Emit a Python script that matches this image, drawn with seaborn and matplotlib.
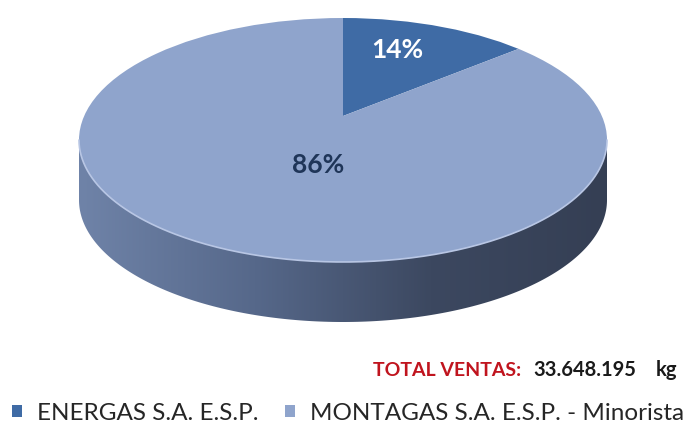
import numpy as np
import matplotlib
matplotlib.use("Agg")
import matplotlib.pyplot as plt
import seaborn as sns
from matplotlib.patches import Polygon, Circle
from matplotlib.colors import LinearSegmentedColormap

# data
companies = ["ENERGAS S.A. E.S.P.", "MONTAGAS S.A. E.S.P. - Minorista"]
shares = [14, 86]
total_label = "TOTAL VENTAS:"
total_value = "33.648.195"
total_unit = "kg"

sns.set_theme(style="white")
plt.rcParams["font.family"] = ["Lato", "DejaVu Sans"]

top_colors = ["#3f6ba5", "#8fa4cc"]

fig = plt.figure(figsize=(6.88, 4.26), dpi=100)
ax = fig.add_axes([0, 0, 1, 1])

# pixel layout -> squashed ellipse (rx 264 px, ry 122 px, centre at 343,140)
cx, cy, rx, ry = 343, 140, 264, 122
depth = 60 / ry
apex_shift = 24 / ry  # perspective: slice apex sits above the ellipse centre

# side of the "3D" pie with a horizontal shading gradient
t = np.linspace(np.pi, 2 * np.pi, 200)
upper = np.column_stack([np.cos(t), np.sin(t)])
lower = np.column_stack([np.cos(t[::-1]), np.sin(t[::-1]) - depth])
side = Polygon(np.vstack([upper, lower]), closed=True, facecolor="none", edgecolor="none")
ax.add_patch(side)
cmap = LinearSegmentedColormap.from_list("side", ["#6f83a8", "#56688a", "#3c4860", "#353f54"])
grad = np.linspace(0, 1, 256).reshape(1, -1)
im = ax.imshow(grad, cmap=cmap, extent=[-1, 1, -1 - depth, 0], aspect="auto", zorder=1)
im.set_clip_path(side)

# top face: pie slices from the data, clipped to the ellipse outline
top = Circle((0, 0), 1, transform=ax.transData, facecolor="none", edgecolor="none")
ax.add_patch(top)
wedges, texts, autotexts = ax.pie(
    shares, colors=top_colors, startangle=90, counterclock=False,
    radius=1.4, center=(0, apex_shift), autopct="%1.0f%%",
    wedgeprops=dict(linewidth=0), textprops=dict(fontsize=19, fontweight="bold"))
for w in wedges:
    w.set_zorder(2)
    w.set_clip_on(True)
    w.set_clip_path(top)

# thin highlight where the top meets the side
ax.plot(np.cos(t), np.sin(t), color="#b8c6e4", lw=1.2, zorder=3)

autotexts[0].set_color("white")
autotexts[0].set_position(((397 - cx) / rx, (cy - 50) / ry))
autotexts[1].set_color("#1f3558")
autotexts[1].set_position(((318 - cx) / rx, (cy - 165) / ry))
for a in autotexts:
    a.set_zorder(4)

ax.set_aspect("auto")
ax.set_xlim(-cx / rx, (688 - cx) / rx)
ax.set_ylim((cy - 426) / ry, cy / ry)
ax.axis("off")

ty = 1 - 370 / 426
fig.text(521 / 688, ty, total_label, color="#c0141e", fontsize=14,
         fontweight="bold", ha="right", va="center")
fig.text(533 / 688, ty, total_value, color="#1a1a1a", fontsize=14.5,
         fontweight="bold", ha="left", va="center")
fig.text(677 / 688, ty, total_unit, color="#1a1a1a", fontsize=14.5,
         fontweight="bold", ha="right", va="center")

fig.legend(wedges, companies, loc="center left", bbox_to_anchor=(12 / 688, 1 - 413 / 426),
           ncol=2, frameon=False, fontsize=17.5, handlelength=0.42, handleheight=0.42,
           handletextpad=0.62, columnspacing=1.08, borderpad=0, borderaxespad=0,
           labelcolor="#262626")

fig.savefig("out.png", dpi=100)
